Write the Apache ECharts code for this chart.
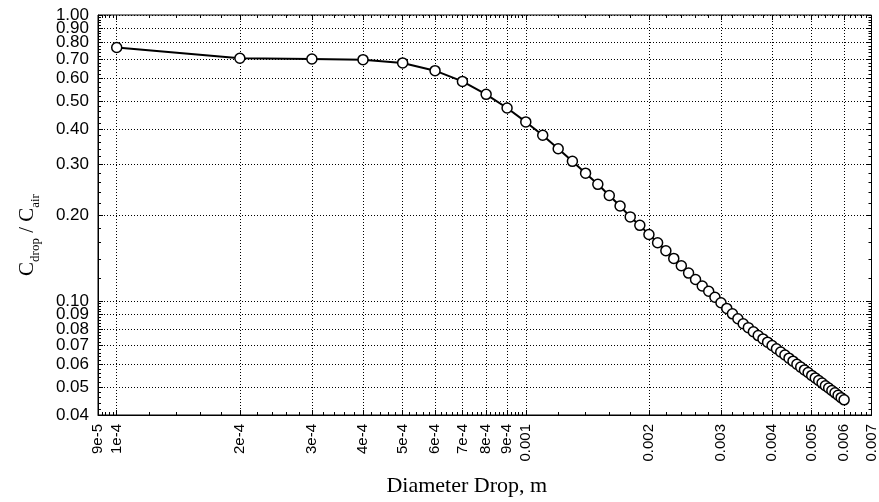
<!DOCTYPE html>
<html>
<head>
<meta charset="utf-8">
<script src="https://cdn.jsdelivr.net/npm/echarts@6/dist/echarts.min.js"></script>
<style>
html,body{margin:0;padding:0;background:#fff;}
#chart{width:879px;height:502px;}
</style>
</head>
<body>
<div id="chart"></div>
<script>
// Diameter of drop (m)
const diameters = [
  0.0001, 0.0002, 0.0003, 0.0004, 0.0005, 0.0006, 0.0007, 0.0008, 0.0009,
  0.0010, 0.0011, 0.0012, 0.0013, 0.0014, 0.0015, 0.0016, 0.0017, 0.0018, 0.0019,
  0.0020, 0.0021, 0.0022, 0.0023, 0.0024, 0.0025, 0.0026, 0.0027, 0.0028, 0.0029,
  0.0030, 0.0031, 0.0032, 0.0033, 0.0034, 0.0035, 0.0036, 0.0037, 0.0038, 0.0039,
  0.0040, 0.0041, 0.0042, 0.0043, 0.0044, 0.0045, 0.0046, 0.0047, 0.0048, 0.0049,
  0.0050, 0.0051, 0.0052, 0.0053, 0.0054, 0.0055, 0.0056, 0.0057, 0.0058, 0.0059,
  0.0060
];
// C_drop / C_air
const ratio = [
  0.770, 0.706, 0.702, 0.698, 0.680, 0.639, 0.586, 0.528, 0.473,
  0.423, 0.380, 0.341, 0.308, 0.280, 0.256, 0.234, 0.215, 0.197, 0.184,
  0.171, 0.160, 0.150, 0.141, 0.133, 0.1253, 0.1190, 0.1130, 0.1083, 0.1032,
  0.0987, 0.0943, 0.0903, 0.0868, 0.0834, 0.0808, 0.0782, 0.0758, 0.0738, 0.0719,
  0.0700, 0.0682, 0.0664, 0.0648, 0.0632, 0.0617, 0.0602, 0.0588, 0.0575, 0.0563,
  0.0550, 0.0539, 0.0528, 0.0517, 0.0506, 0.0497, 0.0487, 0.0478, 0.0469, 0.0460,
  0.0452
];
// Axis ticks
const xTickValues = [0.00009, 0.0001, 0.0002, 0.0003, 0.0004, 0.0005, 0.0006, 0.0007, 0.0008, 0.0009,
  0.001, 0.002, 0.003, 0.004, 0.005, 0.006, 0.007];
const xTickLabels = ['9e-5', '1e-4', '2e-4', '3e-4', '4e-4', '5e-4', '6e-4', '7e-4', '8e-4', '9e-4',
  '0.001', '0.002', '0.003', '0.004', '0.005', '0.006', '0.007'];
const yTickValues = [0.04, 0.05, 0.06, 0.07, 0.08, 0.09, 0.10, 0.20, 0.30, 0.40, 0.50, 0.60, 0.70, 0.80, 0.90, 1.00];
const yTickLabels = ['0.04', '0.05', '0.06', '0.07', '0.08', '0.09', '0.10', '0.20', '0.30', '0.40', '0.50', '0.60', '0.70', '0.80', '0.90', '1.00'];
const xMinorTicks = [0.000092, 0.000094, 0.000096, 0.000098,
  0.00012, 0.00014, 0.00016, 0.00018, 0.00022, 0.00024, 0.00026, 0.00028,
  0.00032, 0.00034, 0.00036, 0.00038, 0.00042, 0.00044, 0.00046, 0.00048,
  0.00052, 0.00054, 0.00056, 0.00058, 0.00062, 0.00064, 0.00066, 0.00068,
  0.00072, 0.00074, 0.00076, 0.00078, 0.00082, 0.00084, 0.00086, 0.00088,
  0.00092, 0.00094, 0.00096, 0.00098,
  0.0012, 0.0014, 0.0016, 0.0018, 0.0022, 0.0024, 0.0026, 0.0028,
  0.0032, 0.0034, 0.0036, 0.0038, 0.0042, 0.0044, 0.0046, 0.0048,
  0.0052, 0.0054, 0.0056, 0.0058, 0.0062, 0.0064, 0.0066, 0.0068];
const yMinorTicks = [0.042, 0.044, 0.046, 0.048, 0.052, 0.054, 0.056, 0.058,
  0.062, 0.064, 0.066, 0.068, 0.072, 0.074, 0.076, 0.078, 0.082, 0.084, 0.086, 0.088,
  0.092, 0.094, 0.096, 0.098,
  0.12, 0.14, 0.16, 0.18, 0.22, 0.24, 0.26, 0.28, 0.32, 0.34, 0.36, 0.38,
  0.42, 0.44, 0.46, 0.48, 0.52, 0.54, 0.56, 0.58, 0.62, 0.64, 0.66, 0.68,
  0.72, 0.74, 0.76, 0.78, 0.82, 0.84, 0.86, 0.88, 0.92, 0.94, 0.96, 0.98];

function lookup(vals, labels, v) {
  for (let i = 0; i < vals.length; i++) {
    if (Math.abs(Math.log(v / vals[i])) < 1e-6) return labels[i];
  }
  return '';
}

const chart = echarts.init(document.getElementById('chart'), null, {renderer: 'canvas'});
const sansFont = 'Liberation Sans, Arial, sans-serif';
const serifFont = 'Liberation Serif, Times New Roman, serif';
const xMin = 0.00009, xMax = 0.007, yMin = 0.04, yMax = 1.0;

const xAxisBase = {type: 'log', logBase: 10, min: xMin, max: xMax, gridIndex: 0};
const yAxisBase = {type: 'log', logBase: 10, min: yMin, max: yMax, gridIndex: 0};

// y label groups (split so that the tight top labels are not auto-hidden)
const yLabelGroups = [yTickValues.slice(0, 13), [yTickValues[13]], [yTickValues[14]], [yTickValues[15]]];

function yLabelAxis(vals) {
  return Object.assign({}, yAxisBase, {
    position: 'left',
    axisLine: {show: false},
    axisTick: {show: false},
    axisLabel: {show: true, margin: 9, fontFamily: sansFont, fontSize: 17, color: '#000',
      customValues: vals, showMinLabel: true, showMaxLabel: true, hideOverlap: false,
      formatter: v => lookup(yTickValues, yTickLabels, v)},
    splitLine: {show: false}
  });
}

const option = {
  animation: false,
  backgroundColor: '#fff',
  grid: {left: 98, top: 15, right: 5, bottom: 84, show: true, borderColor: '#000', borderWidth: 1, backgroundColor: 'transparent'},
  xAxis: [
    Object.assign({}, xAxisBase, {
      position: 'bottom',
      name: 'Diameter Drop, m',
      nameLocation: 'middle',
      nameGap: 60,
      nameTextStyle: {fontFamily: serifFont, fontSize: 22, color: '#000', padding: [0, 36, 0, 0]},
      axisLine: {show: true, lineStyle: {color: '#000', width: 1}},
      axisTick: {show: true, inside: true, length: 5, customValues: xTickValues, lineStyle: {color: '#000'}},
      axisLabel: {show: true, rotate: 90, margin: 9, fontFamily: sansFont, fontSize: 15, color: '#000',
        customValues: xTickValues, showMinLabel: true, showMaxLabel: true, hideOverlap: false,
        formatter: v => lookup(xTickValues, xTickLabels, v)},
      splitLine: {show: true, lineStyle: {color: '#000', type: [1, 2], width: 1}},
      minorTick: {show: false}, minorSplitLine: {show: false}
    }),
    Object.assign({}, xAxisBase, {
      position: 'bottom',
      axisLine: {show: false},
      axisTick: {show: true, inside: true, length: 3, customValues: xMinorTicks, lineStyle: {color: '#000'}},
      axisLabel: {show: false},
      splitLine: {show: false}
    }),
    Object.assign({}, xAxisBase, {
      position: 'top',
      axisLine: {show: false},
      axisTick: {show: true, inside: true, length: 5, customValues: xTickValues, lineStyle: {color: '#000'}},
      axisLabel: {show: false},
      splitLine: {show: false}
    }),
    Object.assign({}, xAxisBase, {
      position: 'top',
      axisLine: {show: false},
      axisTick: {show: true, inside: true, length: 3, customValues: xMinorTicks, lineStyle: {color: '#000'}},
      axisLabel: {show: false},
      splitLine: {show: false}
    })
  ],
  yAxis: [
    Object.assign({}, yAxisBase, {
      position: 'left',
      name: '{c|C}{s|drop}{c| / C}{s|air}',
      nameLocation: 'middle',
      nameRotate: 90,
      nameGap: 60,
      nameTextStyle: {
        color: '#000',
        padding: [0, 40, 0, 0],
        rich: {
          c: {fontFamily: serifFont, fontSize: 21, color: '#000', lineHeight: 26, verticalAlign: 'bottom'},
          s: {fontFamily: serifFont, fontSize: 13, color: '#000', lineHeight: 26, verticalAlign: 'bottom', padding: [0, 0, -4, 0]}
        }
      },
      axisLine: {show: true, lineStyle: {color: '#000', width: 1}},
      axisTick: {show: true, inside: true, length: 5, customValues: yTickValues, lineStyle: {color: '#000'}},
      axisLabel: {show: false},
      splitLine: {show: true, lineStyle: {color: '#000', type: [1, 2], width: 1}},
      minorTick: {show: false}, minorSplitLine: {show: false}
    }),
    yLabelAxis(yLabelGroups[0]),
    yLabelAxis(yLabelGroups[1]),
    yLabelAxis(yLabelGroups[2]),
    yLabelAxis(yLabelGroups[3]),
    Object.assign({}, yAxisBase, {
      position: 'left',
      axisLine: {show: false},
      axisTick: {show: true, inside: true, length: 3, customValues: yMinorTicks, lineStyle: {color: '#000'}},
      axisLabel: {show: false},
      splitLine: {show: false}
    }),
    Object.assign({}, yAxisBase, {
      position: 'right',
      axisLine: {show: false},
      axisTick: {show: true, inside: true, length: 5, customValues: yTickValues, lineStyle: {color: '#000'}},
      axisLabel: {show: false},
      splitLine: {show: false}
    }),
    Object.assign({}, yAxisBase, {
      position: 'right',
      axisLine: {show: false},
      axisTick: {show: true, inside: true, length: 3, customValues: yMinorTicks, lineStyle: {color: '#000'}},
      axisLabel: {show: false},
      splitLine: {show: false}
    })
  ],
  series: [{
    type: 'line',
    xAxisIndex: 0,
    yAxisIndex: 0,
    data: diameters.map((d, i) => [d, ratio[i]]),
    lineStyle: {color: '#000', width: 2},
    symbol: 'circle',
    symbolSize: 10,
    itemStyle: {color: '#fff', borderColor: '#000', borderWidth: 1.5},
    z: 5
  }]
};
chart.setOption(option);
</script>
</body>
</html>
